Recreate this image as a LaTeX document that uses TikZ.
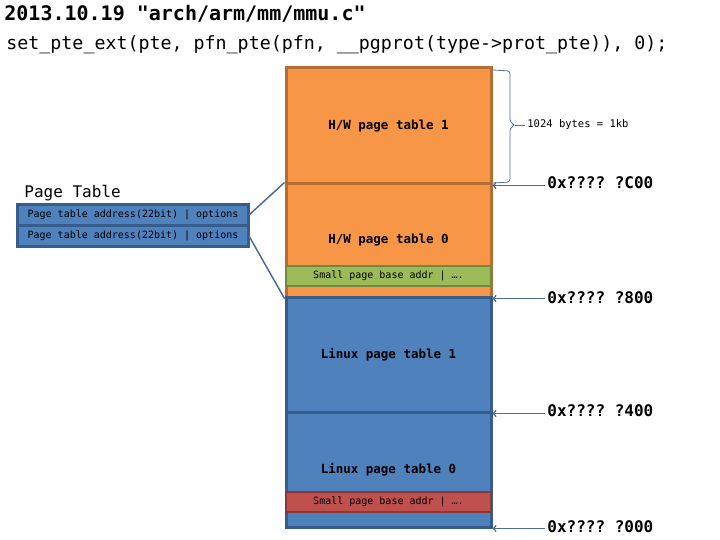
\documentclass[tikz,border=0pt]{standalone}
\usepackage{fontspec}
\setmonofont{DejaVu Sans Mono}
\definecolor{hworange}{HTML}{F79646}
\definecolor{hwedge}{HTML}{B66D31}
\definecolor{lxblue}{HTML}{4F81BD}
\definecolor{lxedge}{HTML}{385D8A}
\definecolor{spgreen}{HTML}{9BBB59}
\definecolor{spgedge}{HTML}{71893F}
\definecolor{spred}{HTML}{C0504D}
\definecolor{spredge}{HTML}{8C3836}
\definecolor{link}{HTML}{4A6E9C}
\newcommand{\tbl}{\ttfamily\bfseries\fontsize{12.5}{14}\selectfont}
\tikzstyle{hwtable}=[rectangle, draw=hwedge, fill=hworange, line width=3pt, minimum width=205pt, inner sep=0pt, font=\tbl]
\tikzstyle{lxtable}=[rectangle, draw=lxedge, fill=lxblue, line width=3pt, minimum width=205pt, inner sep=0pt, font=\tbl]
\tikzstyle{strip}=[rectangle, line width=2.5pt, minimum width=205pt, minimum height=20pt, inner sep=0pt, font=\ttfamily\fontsize{10}{12}\selectfont]
\tikzstyle{pentry}=[rectangle, draw=lxedge, fill=lxblue, line width=2pt, minimum width=230pt, minimum height=20pt, inner sep=0pt, font=\ttfamily\fontsize{10}{12}\selectfont]
\tikzstyle{addr}=[anchor=west, inner sep=2pt, font=\ttfamily\bfseries\fontsize{16}{18}\selectfont]

\begin{document}
\begin{tikzpicture}[x=1pt, y=-1pt, thick]
                    \useasboundingbox (0,0) rectangle (720,540);
                    \node[anchor=west, inner sep=0pt, font=\ttfamily\bfseries\fontsize{20}{22}\selectfont] (title) at (4, 14) {2013.10.19 "arch/arm/mm/mmu.c"};
                    \node[anchor=west, inner sep=0pt, font=\ttfamily\fontsize{18.3}{22}\selectfont] (call) at (6, 45) {set\_pte\_ext(pte, pfn\_pte(pfn, \_\_pgprot(type->prot\_pte)), 0);};
                    % hardware tables
                    \node[hwtable, minimum height=116pt] (hw1) at (388.5, 126) {H/W page table 1};
                    \node[hwtable, minimum height=113pt] (hw0) at (388.5, 240.5) {H/W page table 0};
                    \node[strip, draw=spgedge, fill=spgreen] (gs) at (388.5, 276) {Small page base addr | ….};
                    % linux tables
                    \node[lxtable, minimum height=115pt] (lx1) at (388.5, 354.5) {Linux page table 1};
                    \node[lxtable, minimum height=115pt] (lx0) at (388.5, 469.5) {Linux page table 0};
                    \node[strip, draw=spredge, fill=spred] (rs) at (388.5, 502) {Small page base addr | ….};
                    % page table
                    \node[anchor=west, inner sep=0pt, font=\ttfamily\fontsize{16}{18}\selectfont] (pt) at (24, 193) {Page Table};
                    \node[pentry] (e1) at (133, 215) {Page table address(22bit) | options};
                    \node[pentry] (e2) at (133, 236) {Page table address(22bit) | options};
                    \draw[lxedge, line width=2.5pt] (e1.north west) rectangle (e2.south east);
                    % addresses
                    \node[addr] (c00) at (545, 183) {0x???? ?C00};
                    \node[addr] (a800) at (545, 298) {0x???? ?800};
                    \node[addr] (a400) at (545, 411) {0x???? ?400};
                    \node[addr] (a000) at (545, 527) {0x???? ?000};
                    \node[anchor=west, inner sep=2pt, font=\ttfamily\fontsize{10.5}{12}\selectfont] (kb) at (525, 125) {1024 bytes = 1kb};
                    \coordinate (tip) at (515, 125);
                    \draw[link, line width=1.5pt]
                        (e1.east) -- (hw0.north west)
                        (e2.east) -- (hw0.south west)
                    ;
                    \draw[<-, link, line width=1.5pt] (hw1.south east) -- (c00.west |- hw1.south east);
                    \draw[<-, link, line width=1.5pt] (hw0.south east) -- (a800.west |- hw0.south east);
                    \draw[<-, link, line width=1.5pt] (lx1.south east) -- (a400.west |- lx1.south east);
                    \draw[<-, link, line width=1.5pt] (lx0.south east) -- (a000.west |- lx0.south east);
                    \draw[link!80!gray, line width=0.8pt, rounded corners=3pt]
                        (493, 70) -- (510, 71) -- (510, 122) -- (tip) -- (510, 128) -- (510, 182) -- (493, 183)
                    ;
                    \draw[link!80!gray, line width=0.8pt] (tip) -- (kb.west);
                \end{tikzpicture}
\end{document}
